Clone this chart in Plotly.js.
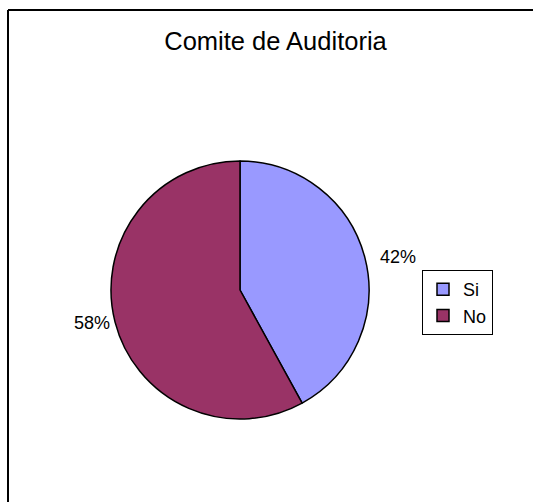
<!DOCTYPE html>
<html>
<head>
<meta charset="utf-8">
<script src="https://cdn.plot.ly/plotly-3.0.1.min.js"></script>
<style>html,body{margin:0;padding:0;background:#fff;}#chart{width:533px;height:502px;}</style>
</head>
<body>
<div id="chart"></div>
<script>
const categories = ["Si", "No"];
const values = [42, 58];
const sliceColors = ["#9999FF", "#993366"];
const chartTitle = "Comite de Auditoria";

const W = 533, H = 502;
const cx = 240, cy = 290, r = 129;

const data = [{
  type: "pie",
  labels: categories,
  values: values,
  sort: false,
  direction: "clockwise",
  rotation: 0,
  marker: { colors: sliceColors, line: { color: "#000000", width: 1.5 } },
  texttemplate: ["\u00a0\u00a0%{percent:.0%}", "%{percent:.0%}"],
  textposition: "outside",
  outsidetextfont: { color: "#000000", size: 18, family: "Liberation Sans, Arial, sans-serif" },
  hoverinfo: "label+percent",
  domain: { x: [(cx - r) / W, (cx + r) / W], y: [(H - cy - r) / H, (H - cy + r) / H] }
}];

const layout = {
  width: W, height: H,
  margin: { l: 0, r: 0, t: 0, b: 0, autoexpand: false },
  paper_bgcolor: "#ffffff",
  font: { family: "Liberation Sans, Arial, sans-serif", color: "#000000", size: 17 },
  title: { text: chartTitle, x: 275.5 / W, xanchor: "center", y: 1 - 41 / H, yanchor: "middle",
           font: { size: 25.5, color: "#000000", family: "Liberation Sans, Arial, sans-serif" } },
  showlegend: true,
  legend: { x: 422 / W, xanchor: "left", y: 1 - 270 / H, yanchor: "top",
            bordercolor: "#000000", borderwidth: 1, bgcolor: "#ffffff",
            font: { size: 18, color: "#000000" } },
  shapes: [
    { type: "line", xref: "paper", yref: "paper", x0: 8 / W, x1: 1, y0: 1 - 10 / H, y1: 1 - 10 / H, line: { color: "#000000", width: 2 } },
    { type: "line", xref: "paper", yref: "paper", x0: 8 / W, x1: 8 / W, y0: 0, y1: 1 - 10 / H, line: { color: "#000000", width: 2 } }
  ]
};

Plotly.newPlot("chart", data, layout, { displayModeBar: false, staticPlot: true });
</script>
</body>
</html>
